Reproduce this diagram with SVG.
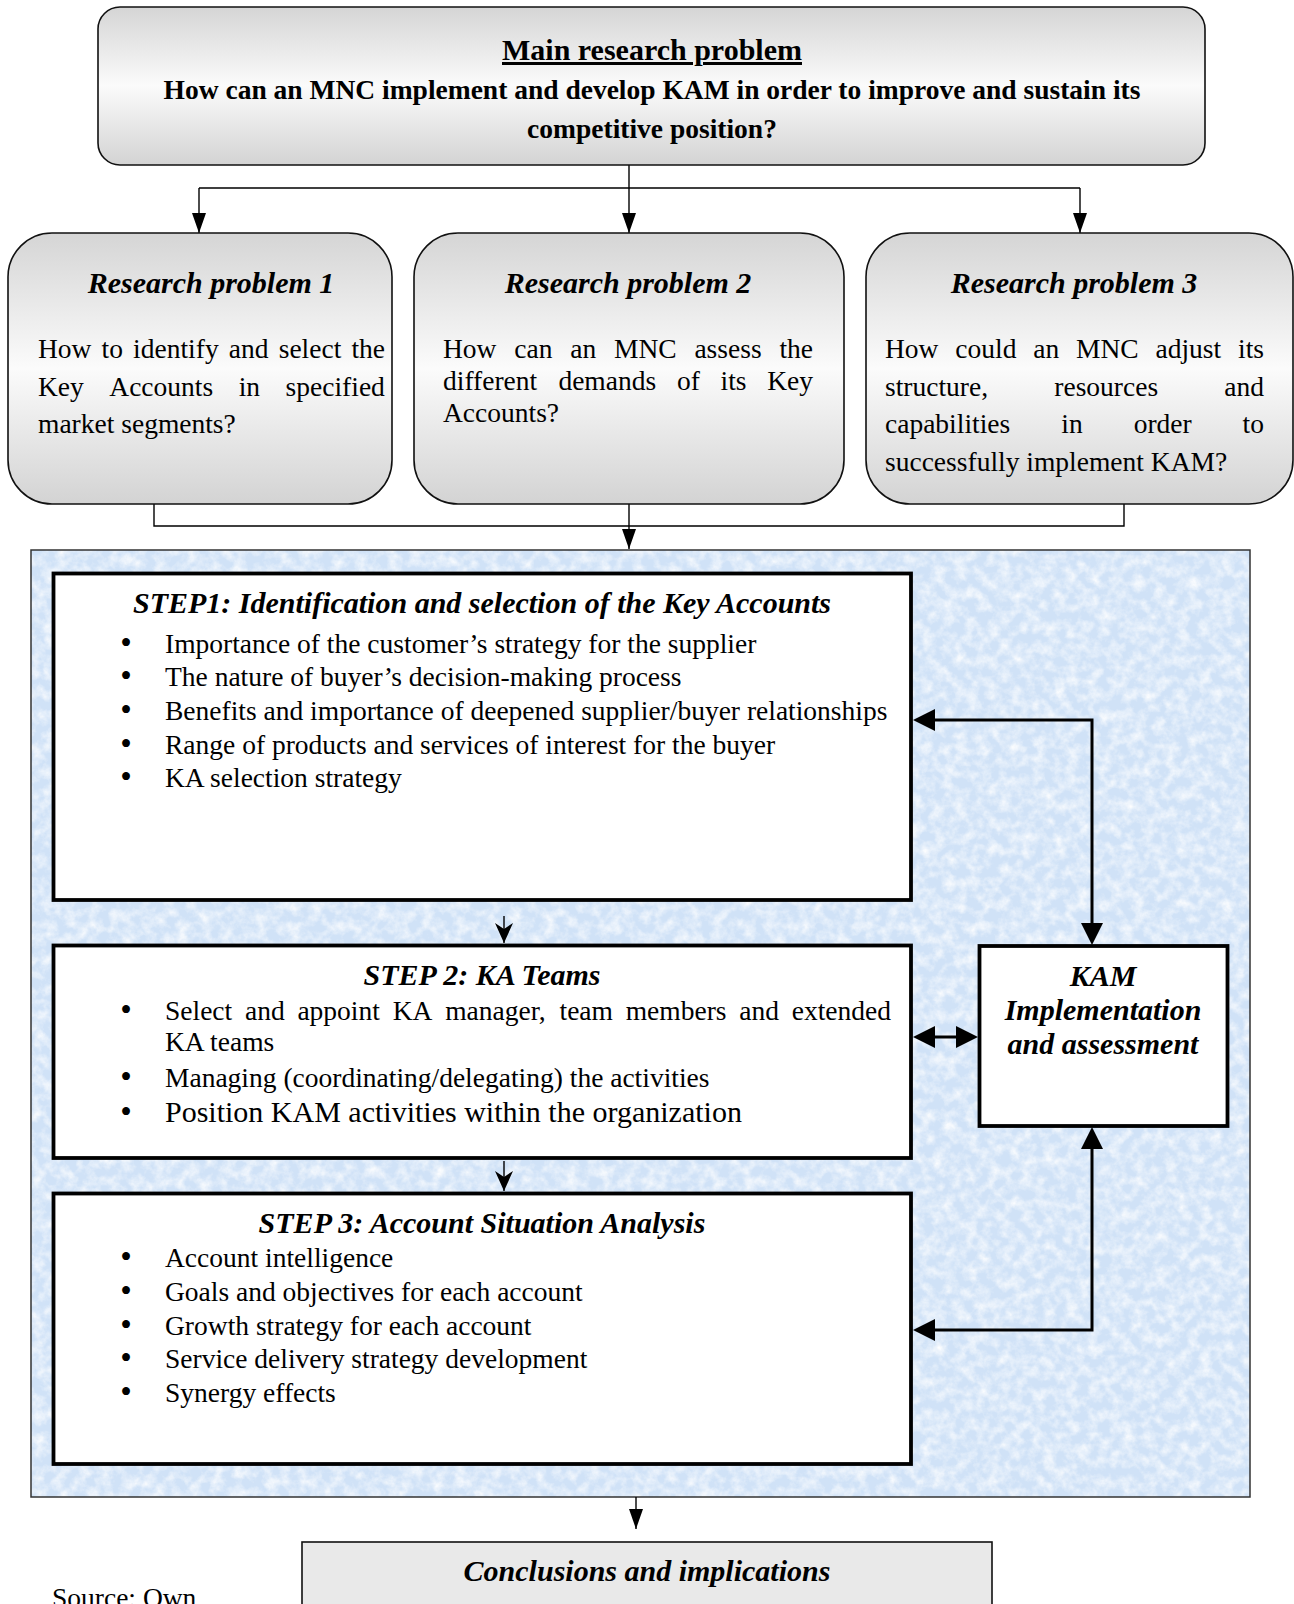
<svg xmlns="http://www.w3.org/2000/svg" width="1294" height="1604" viewBox="0 0 1294 1604">
  <defs>
    <style>
      .t { font-family: "Liberation Serif", "Times New Roman", serif; fill: #000; }
      .body { font-size: 27.5px; }
      .big { font-size: 30px; }
      .bi { font-size: 30px; font-weight: bold; font-style: italic; }
      .bold { font-weight: bold; }
      .mid { text-anchor: middle; }
      .dot { font-size: 33px; text-anchor: middle; }
      .rbox { fill: url(#shade); stroke: #111; stroke-width: 1.6; }
      .sbox { fill: #fff; stroke: #000; stroke-width: 3.8; }
      .thin { fill: none; stroke: #000; stroke-width: 1.4; }
      .thick { fill: none; stroke: #000; stroke-width: 3; }
    </style>
    <linearGradient id="shade" x1="0" y1="0" x2="0" y2="1">
      <stop offset="0" stop-color="#d5d5d5"/>
      <stop offset="0.5" stop-color="#fbfbfb"/>
      <stop offset="1" stop-color="#d3d3d3"/>
    </linearGradient>
    <!-- fine mottled paper texture for the process panel -->
    <filter id="mottle" x="0" y="0" width="100%" height="100%">
      <feTurbulence type="fractalNoise" baseFrequency="0.09" numOctaves="4" seed="7"/>
      <feColorMatrix type="matrix" values="0 0 0 0 1  0 0 0 0 1  0 0 0 0 1  1.6 0 0 0 -0.58"/>
    </filter>
    <marker id="tri" markerUnits="userSpaceOnUse" markerWidth="20" markerHeight="14" refX="20" refY="7" orient="auto">
      <path d="M0,0 L20,7 L0,14 Z" fill="#000"/>
    </marker>
    <marker id="head" markerUnits="userSpaceOnUse" markerWidth="22" markerHeight="22" refX="14" refY="11" orient="auto-start-reverse">
      <path d="M0,0 L22,11 L0,22 Z" fill="#000"/>
    </marker>
    <marker id="barb" markerUnits="userSpaceOnUse" markerWidth="20" markerHeight="18" refX="20" refY="9" orient="auto">
      <path d="M0,0 L20,9 L0,18 L6,9 Z" fill="#000"/>
    </marker>
  </defs>

  <rect width="1294" height="1604" fill="#fff"/>

  <!-- process panel background -->
  <g id="panel">
    <rect x="31" y="550" width="1219" height="947" fill="#d0e2f7"/>
    <rect x="31" y="550" width="1219" height="947" fill="#fff" filter="url(#mottle)"/>
    <rect x="31" y="550" width="1219" height="947" fill="none" stroke="#333" stroke-width="1.5"/>
  </g>

  <!-- connectors -->
  <g id="connectors">
    <path class="thin" d="M629,165 V188 M199,188 H1080"/>
    <path class="thin" d="M199,188 V233" marker-end="url(#tri)"/>
    <path class="thin" d="M629,188 V233" marker-end="url(#tri)"/>
    <path class="thin" d="M1080,188 V233" marker-end="url(#tri)"/>
    <path class="thin" d="M154,504 V526 H1124 V504"/>
    <path class="thin" d="M629,504 V549" marker-end="url(#tri)"/>
    <path class="thin" d="M504,916 V943" marker-end="url(#barb)"/>
    <path class="thin" d="M504,1161 V1191" marker-end="url(#barb)"/>
    <path class="thick" d="M921,720 H1092 V937" marker-start="url(#head)" marker-end="url(#head)"/>
    <path class="thick" d="M921,1037 H970" marker-start="url(#head)" marker-end="url(#head)"/>
    <path class="thick" d="M921,1330 H1092 V1135" marker-start="url(#head)" marker-end="url(#head)"/>
    <path class="thin" d="M636,1497 V1529" marker-end="url(#tri)"/>
  </g>

  <!-- main research problem -->
  <g id="main-problem">
    <rect class="rbox" x="98" y="7" width="1107" height="158" rx="22" ry="22"/>
    <text class="t bold big mid" x="652" y="60" text-decoration="underline">Main research problem</text>
    <text class="t bold body mid" x="652" y="99">How can an MNC implement and develop KAM in order to improve and sustain its</text>
    <text class="t bold body mid" x="652" y="138">competitive position?</text>
  </g>

  <!-- research problem 1 -->
  <g id="research-problem-1">
    <rect class="rbox" x="8" y="233" width="384" height="271" rx="44" ry="44"/>
    <text class="t bi mid" x="211" y="293">Research problem 1</text>
    <text class="t body" y="358"><tspan x="38">How</tspan><tspan x="101.6">to</tspan><tspan x="133.1">identify</tspan><tspan x="228.8">and</tspan><tspan x="278.7">select</tspan><tspan x="351.4">the</tspan></text>
    <text class="t body" y="396"><tspan x="38">Key</tspan><tspan x="109.3">Accounts</tspan><tspan x="238.7">in</tspan><tspan x="285.6">specified</tspan></text>
    <text class="t body" x="38" y="433">market segments?</text>
  </g>

  <!-- research problem 2 -->
  <g id="research-problem-2">
    <rect class="rbox" x="414" y="233" width="430" height="271" rx="44" ry="44"/>
    <text class="t bi mid" x="628" y="293">Research problem 2</text>
    <text class="t body" y="358"><tspan x="443">How</tspan><tspan x="514.3">can</tspan><tspan x="570.2">an</tspan><tspan x="614">MNC</tspan><tspan x="694.4">assess</tspan><tspan x="779.4">the</tspan></text>
    <text class="t body" y="390"><tspan x="443">different</tspan><tspan x="558.4">demands</tspan><tspan x="676.9">of</tspan><tspan x="720.5">its</tspan><tspan x="767.2">Key</tspan></text>
    <text class="t body" x="443" y="422">Accounts?</text>
  </g>

  <!-- research problem 3 -->
  <g id="research-problem-3">
    <rect class="rbox" x="866" y="233" width="427" height="271" rx="44" ry="44"/>
    <text class="t bi mid" x="1074" y="293">Research problem 3</text>
    <text class="t body" y="358"><tspan x="885">How</tspan><tspan x="955.3">could</tspan><tspan x="1033.2">an</tspan><tspan x="1076">MNC</tspan><tspan x="1155.5">adjust</tspan><tspan x="1238">its</tspan></text>
    <text class="t body" y="396"><tspan x="885">structure,</tspan><tspan x="1054.3">resources</tspan><tspan x="1224.3">and</tspan></text>
    <text class="t body" y="433"><tspan x="885">capabilities</tspan><tspan x="1061.3">in</tspan><tspan x="1133.7">order</tspan><tspan x="1242.6">to</tspan></text>
    <text class="t body" x="885" y="471">successfully implement KAM?</text>
  </g>

  <!-- step 1 -->
  <g id="step-1">
    <rect class="sbox" x="53.5" y="573.5" width="857.5" height="326.5"/>
    <text class="t bi mid" x="482" y="613">STEP1: Identification and selection of the Key Accounts</text>
    <g class="t body">
      <text class="dot" x="126" y="654">•</text><text x="165" y="653">Importance of the customer’s strategy for the supplier</text>
      <text class="dot" x="126" y="687">•</text><text x="165" y="686">The nature of buyer’s decision-making process</text>
      <text class="dot" x="126" y="721">•</text><text x="165" y="720">Benefits and importance of deepened supplier/buyer relationships</text>
      <text class="dot" x="126" y="755">•</text><text x="165" y="754">Range of products and services of interest for the buyer</text>
      <text class="dot" x="126" y="788">•</text><text x="165" y="787">KA selection strategy</text>
    </g>
  </g>

  <!-- step 2 -->
  <g id="step-2">
    <rect class="sbox" x="53.5" y="945.5" width="857.5" height="212.5"/>
    <text class="t bi mid" x="482" y="985">STEP 2: KA Teams</text>
    <g class="t body">
      <text class="dot" x="126" y="1021">•</text>
      <text y="1020"><tspan x="165">Select</tspan><tspan x="245">and</tspan><tspan x="297.4">appoint</tspan><tspan x="392.7">KA</tspan><tspan x="445.2">manager,</tspan><tspan x="559.5">team</tspan><tspan x="625.7">members</tspan><tspan x="739.3">and</tspan><tspan x="791.7">extended</tspan></text>
      <text x="165" y="1051">KA teams</text>
      <text class="dot" x="126" y="1088">•</text><text x="165" y="1087">Managing (coordinating/delegating) the activities</text>
      <text class="dot" x="126" y="1123">•</text><text class="big" x="165" y="1122">Position KAM activities within the organization</text>
    </g>
  </g>

  <!-- step 3 -->
  <g id="step-3">
    <rect class="sbox" x="53.5" y="1193.5" width="857.5" height="270.5"/>
    <text class="t bi mid" x="482" y="1233">STEP 3: Account Situation Analysis</text>
    <g class="t body">
      <text class="dot" x="126" y="1268">•</text><text x="165" y="1267">Account intelligence</text>
      <text class="dot" x="126" y="1302">•</text><text x="165" y="1301">Goals and objectives for each account</text>
      <text class="dot" x="126" y="1336">•</text><text x="165" y="1335">Growth strategy for each account</text>
      <text class="dot" x="126" y="1369">•</text><text x="165" y="1368">Service delivery strategy development</text>
      <text class="dot" x="126" y="1403">•</text><text x="165" y="1402">Synergy effects</text>
    </g>
  </g>

  <!-- KAM implementation -->
  <g id="kam">
    <rect class="sbox" x="979.5" y="946" width="248" height="180"/>
    <text class="t bi mid" x="1103" y="986">KAM</text>
    <text class="t bi mid" x="1103" y="1020">Implementation</text>
    <text class="t bi mid" x="1103" y="1054">and assessment</text>
  </g>

  <!-- conclusions -->
  <g id="conclusions">
    <rect x="302" y="1542" width="690" height="100" fill="#e9e9e9" stroke="#111" stroke-width="1.6"/>
    <text class="t bi mid" x="647" y="1581">Conclusions and implications</text>
  </g>

  <text class="t body" x="52" y="1607">Source: Own</text>
</svg>
